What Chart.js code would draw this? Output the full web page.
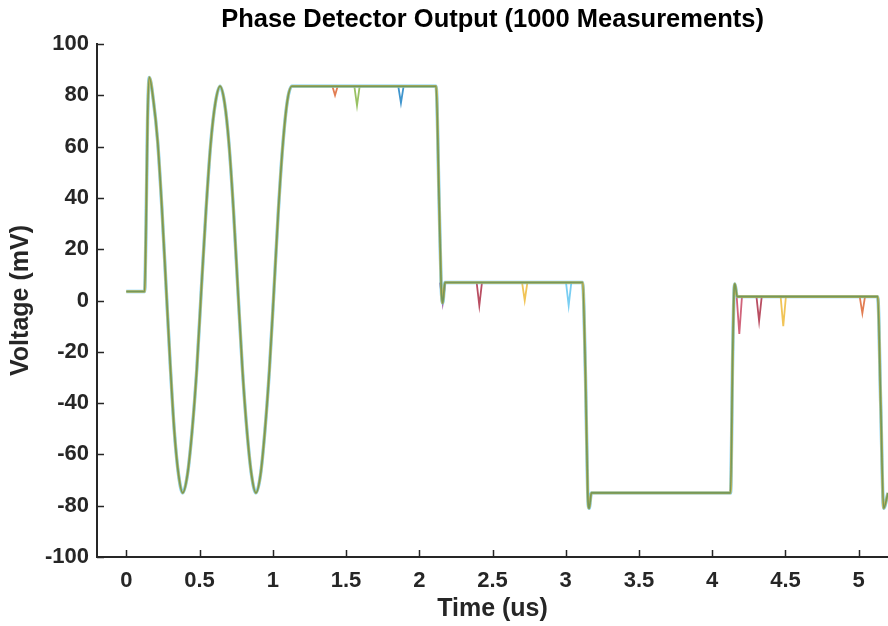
<!DOCTYPE html>
<html>
<head>
<meta charset="utf-8">
<title>Phase Detector Output</title>
<script src="https://cdn.jsdelivr.net/npm/chart.js@4.4.1/dist/chart.umd.min.js"></script>
<style>
  html, body { margin: 0; padding: 0; background: #fff; }
  #wrap { width: 888px; height: 626px; }
</style>
</head>
<body>
<div id="wrap"><canvas id="myChart"></canvas></div>
<script>
// main trace (time in us, voltage in mV)
const timeUs = [
  0, 0.125, 0.135, 0.145, 0.157,
  0.185, 0.214, 0.243, 0.271, 0.300, 0.328, 0.357, 0.385,
  0.417, 0.449, 0.481, 0.512, 0.544, 0.576, 0.608, 0.640,
  0.671, 0.701, 0.732, 0.762, 0.793, 0.824, 0.855, 0.885,
  0.916, 0.946, 0.977, 1.008, 1.038, 1.069, 1.100, 1.130,
  2.115, 2.135, 2.150, 2.160, 2.175,
  3.115, 3.135, 3.150, 3.160, 3.175,
  4.125, 4.140, 4.150, 4.155, 4.170,
  5.130, 5.150, 5.170, 5.200
];
const voltageMv = [
  3.5, 3.5, 30, 70, 87,
  78, 62, 36, 6, -25, -51, -68, -75,
  -68, -51, -27, 4, 35, 61, 77, 83.5,
  77, 61, 35, 4, -27, -51, -68, -75,
  -68, -51, -27, 4, 35, 61, 78, 83.5,
  83.5, 40, 5, -1, 7,
  7, -30, -75, -81, -75,
  -75, -20, 5, 6.5, 1.5,
  1.5, -40, -81, -75
];

// single-measurement glitches
const glitchTime = [1.425, 1.575, 1.875, 2.16, 2.41, 2.72, 3.02, 4.185, 4.32, 4.485, 5.025];
const glitchLow = [80, 76, 77, -1, -2, 0, -2, -13, -8, -10, -5];
const glitchBase = [83.5, 83.5, 83.5, 7, 7, 7, 7, 1.5, 1.5, 1.5, 1.5];

const xTicks = [0, 0.5, 1, 1.5, 2, 2.5, 3, 3.5, 4, 4.5, 5];
const yTicks = [-100, -80, -60, -40, -20, 0, 20, 40, 60, 80, 100];

const glitchColors = ['#D95319', '#77AC30', '#0072BD', '#7E2F8E', '#A2142F', '#EDB120',
                      '#4DBEEE', '#C0304F', '#A2142F', '#EDB120', '#D95319'];

const fontFam = "'Liberation Sans', Arial, sans-serif";
const axisColor = '#262626';

const mainPts = timeUs.map((t, i) => ({ x: t, y: voltageMv[i] }));

const datasets = [
  { data: mainPts, borderColor: 'rgba(110,150,90,0.95)', borderWidth: 1.6, cubicInterpolationMode: 'monotone' },
  { data: mainPts, borderColor: 'rgba(237,177,32,0.7)', borderWidth: 2.6, cubicInterpolationMode: 'monotone' },
  { data: mainPts, borderColor: 'rgba(77,190,238,0.75)', borderWidth: 3.4, cubicInterpolationMode: 'monotone' }
];
glitchTime.forEach((t, i) => {
  datasets.push({
    data: [{ x: t - 0.018, y: glitchBase[i] }, { x: t, y: glitchLow[i] }, { x: t + 0.018, y: glitchBase[i] }],
    borderColor: glitchColors[i] + 'C0',
    borderWidth: 1.8,
    tension: 0
  });
});

// MATLAB style ticks pointing into the axes
const innerTicks = {
  id: 'innerTicks',
  afterDraw(chart) {
    const { ctx, chartArea, scales } = chart;
    ctx.save();
    ctx.strokeStyle = axisColor;
    ctx.lineWidth = 1.5;
    ctx.beginPath();
    xTicks.forEach(v => {
      const px = Math.round(scales.x.getPixelForValue(v)) + 0.5;
      ctx.moveTo(px, chartArea.bottom);
      ctx.lineTo(px, chartArea.bottom - 7);
    });
    yTicks.forEach(v => {
      const py = Math.round(scales.y.getPixelForValue(v)) + 0.5;
      ctx.moveTo(chartArea.left, py);
      ctx.lineTo(chartArea.left + 7, py);
    });
    ctx.stroke();
    ctx.restore();
  }
};

const ctx = document.getElementById('myChart').getContext('2d');
const chart = new Chart(ctx, {
  type: 'line',
  data: { datasets: datasets },
  plugins: [innerTicks],
  options: {
    responsive: true,
    maintainAspectRatio: false,
    animation: false,
    events: [],
    elements: { point: { radius: 0 } },
    layout: { padding: 0 },
    plugins: {
      legend: { display: false },
      tooltip: { enabled: false },
      title: {
        display: true,
        fullSize: false,
        text: 'Phase Detector Output (1000 Measurements)',
        color: '#000',
        font: { family: fontFam, size: 25.5, weight: 'bold' },
        padding: { top: 5, bottom: 8.4 }
      }
    },
    scales: {
      x: {
        type: 'linear',
        min: -0.2,
        max: 5.2,
        afterBuildTicks: s => { s.ticks = xTicks.map(v => ({ value: v })); },
        afterFit: s => { s.height = 69; },
        grid: { display: false, drawTicks: false },
        border: { display: true, color: axisColor, width: 2 },
        ticks: {
          color: axisColor,
          padding: 11,
          font: { family: fontFam, size: 22, weight: 'bold' },
          callback: v => String(v)
        },
        title: {
          display: true,
          text: 'Time (us)',
          color: axisColor,
          font: { family: fontFam, size: 25, weight: 'bold' },
          padding: { top: 0, bottom: 2 }
        }
      },
      y: {
        type: 'linear',
        min: -100,
        max: 100,
        afterBuildTicks: s => { s.ticks = yTicks.map(v => ({ value: v })); },
        afterFit: s => { s.width = 97; },
        grid: { display: false, drawTicks: false },
        border: { display: true, color: axisColor, width: 2 },
        ticks: {
          color: axisColor,
          padding: 8,
          font: { family: fontFam, size: 22, weight: 'bold' },
          callback: v => String(v)
        },
        title: {
          display: true,
          text: 'Voltage (mV)',
          color: axisColor,
          font: { family: fontFam, size: 25, weight: 'bold' },
          padding: { top: 6, bottom: 0 }
        }
      }
    }
  }
});
</script>
</body>
</html>
